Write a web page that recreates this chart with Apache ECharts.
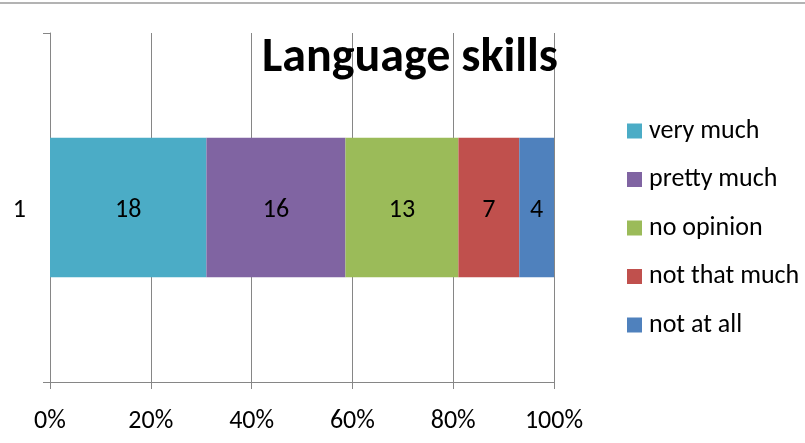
<!DOCTYPE html>
<html>
<head>
<meta charset="utf-8">
<script src="https://cdn.jsdelivr.net/npm/echarts@6/dist/echarts.min.js"></script>
<style>html,body{margin:0;padding:0;background:#fff}#c{width:805px;height:443px}</style>
</head>
<body>
<div id="c"></div>
<script>
const categories = ['1'];
const seriesNames = ['very much', 'pretty much', 'no opinion', 'not that much', 'not at all'];
const seriesValues = [[18], [16], [13], [7], [4]];
const colors = ['#4BACC6', '#8064A2', '#9BBB59', '#C0504D', '#4F81BD'];
const xTicks = ['0%', '20%', '40%', '60%', '80%', '100%'];

const FONT = "'Carlito','Calibri','Liberation Sans','Noto Sans',sans-serif";
const totals = categories.map((c, i) => seriesValues.reduce((s, v) => s + v[i], 0));

const chart = echarts.init(document.getElementById('c'), null, {renderer: 'canvas'});
chart.setOption({
  animation: false,
  textStyle: {fontFamily: FONT},
  title: {
    text: 'Language skills',
    left: 410, top: 35, textAlign: 'center', padding: 0,
    textStyle: {fontFamily: FONT, fontSize: 48, fontWeight: 'bold', color: '#000'}
  },
  legend: {
    orient: 'vertical', left: 622, top: 113, itemGap: 22.5,
    itemWidth: 15, itemHeight: 15, icon: 'rect',
    textStyle: {fontFamily: FONT, fontSize: 26, lineHeight: 26, color: '#000', padding: [0, 0, 0, 2]},
    data: seriesNames
  },
  graphic: [{type: 'line', shape: {x1: 0, y1: 3, x2: 805, y2: 3}, style: {stroke: '#9a9a9a', lineWidth: 1.5}}],
  grid: {left: 50, right: 251, top: 33, bottom: 61, containLabel: false},
  xAxis: {
    type: 'value', min: 0, max: 100, interval: 20,
    axisLine: {show: true, lineStyle: {color: '#868686', width: 1}},
    axisTick: {show: true, length: 7, lineStyle: {color: '#868686'}},
    splitLine: {show: true, lineStyle: {color: '#868686', width: 1}},
    axisLabel: {fontFamily: FONT, fontSize: 26, color: '#000', margin: 26,
      formatter: (v) => xTicks[Math.round(v / 20)]}
  },
  yAxis: {
    type: 'category', data: categories,
    axisLine: {show: true, lineStyle: {color: '#868686'}},
    axisTick: {show: true, length: 7, lineStyle: {color: '#868686'}},
    axisLabel: {fontFamily: FONT, fontSize: 26, lineHeight: 6, verticalAlign: 'top', color: '#000', margin: 24}
  },
  series: seriesNames.map((name, k) => ({
    name, type: 'bar', stack: 'all', barWidth: '40%',
    itemStyle: {color: colors[k]},
    label: {show: true, position: 'inside', offset: [0, 3], fontFamily: FONT, fontSize: 26, color: '#000',
      formatter: (p) => seriesValues[k][p.dataIndex]},
    data: seriesValues[k].map((v, i) => v / totals[i] * 100)
  }))
});
</script>
</body>
</html>
